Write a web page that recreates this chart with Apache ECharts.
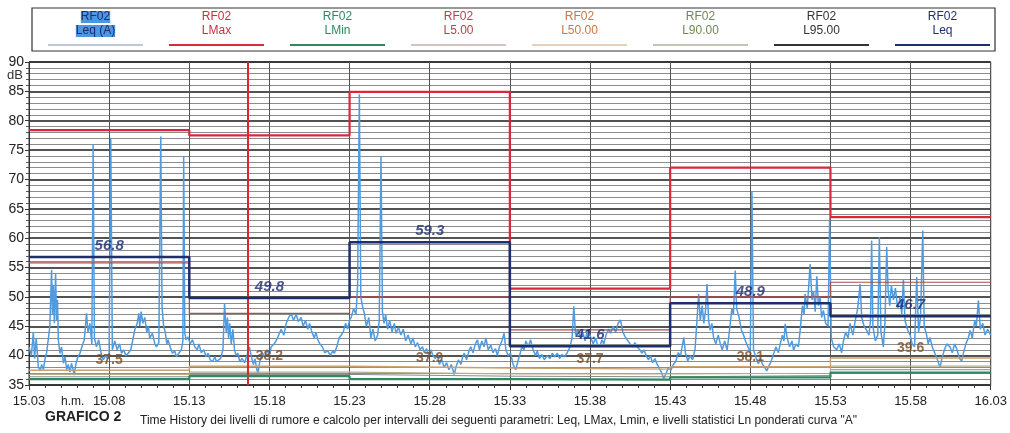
<!DOCTYPE html>
<html>
<head>
<meta charset="utf-8">
<script src="https://cdn.jsdelivr.net/npm/echarts@6/dist/echarts.min.js"></script>
<style>
  html, body { margin: 0; padding: 0; background: #fff; }
  #main { width: 1010px; height: 433px; }
</style>
</head>
<body>
<div id="main"></div>
<script>
// minuti dalle 15.03, asse x
var xLabels = ['15.03', '15.08', '15.13', '15.18', '15.23', '15.28', '15.33', '15.38', '15.43', '15.48', '15.53', '15.58', '16.03'];
var intervalStarts = [0, 10, 20, 30, 40, 50];
var endMinute = 60;
var cursorMinute = 13.62;

// valori per intervallo (10 min)
var leqVals = [56.8, 49.8, 59.3, 41.6, 48.9, 46.7];
var lmaxVals = [78.4, 77.5, 84.9, 51.4, 72.0, 63.6];
var lminVals = [36.0, 36.5, 36.0, 35.9, 36.3, 37.1];
var l5Vals = [55.8, 47.2, 50.0, 44.4, 50.0, 52.5];
var l50Vals = [37.5, 38.2, 37.9, 37.7, 38.1, 39.6];
var l90Vals = [36.8, 37.2, 36.9, 36.9, 37.0, 38.2];
var l95Vals = [36.4, 36.8, 36.5, 36.4, 36.6, 37.6];

// Leq(A) short, [minuto, dB]
var leqTrace = [
  [0.0, 41.5], [0.15, 40.0], [0.27, 44.0], [0.35, 39.5], [0.45, 43.0], [0.58, 38.1], [0.7, 37.4], [0.79, 38.5],
  [0.9, 37.6], [1.0, 39.5], [1.1, 40.5], [1.2, 42.7], [1.3, 45.0], [1.36, 50.5], [1.41, 54.6], [1.46, 47.0],
  [1.52, 52.0], [1.58, 45.5], [1.66, 54.0], [1.72, 46.0], [1.78, 49.5], [1.83, 42.7], [1.93, 40.4], [2.03, 41.5],
  [2.15, 38.7], [2.25, 39.8], [2.35, 37.6], [2.45, 38.5], [2.55, 37.2], [2.65, 38.7], [2.75, 37.6], [2.82, 36.7],
  [2.92, 38.5], [3.05, 39.8], [3.18, 40.4], [3.3, 41.5], [3.45, 42.7], [3.59, 47.2], [3.68, 44.0], [3.8, 45.5],
  [3.92, 42.0], [4.0, 76.0], [4.08, 43.0], [4.21, 41.5], [4.35, 42.7], [4.5, 40.4], [4.63, 39.3], [4.78, 40.0],
  [4.9, 39.5], [5.0, 40.5], [5.1, 77.0], [5.2, 41.0], [5.35, 42.5], [5.5, 41.0], [5.65, 42.0], [5.77, 40.4],
  [5.9, 41.0], [6.05, 40.0], [6.19, 40.4], [6.35, 41.0], [6.5, 43.0], [6.6, 44.4], [6.75, 45.5], [6.85, 47.2],
  [6.91, 45.0], [7.0, 47.5], [7.1, 45.5], [7.22, 46.5], [7.35, 44.0], [7.45, 45.0], [7.53, 43.0], [7.7, 43.8],
  [7.85, 42.0], [7.95, 41.5], [8.1, 42.2], [8.22, 77.3], [8.3, 48.4], [8.4, 45.0], [8.5, 44.0], [8.6, 42.0],
  [8.68, 42.7], [8.8, 41.5], [8.95, 40.4], [9.09, 40.8], [9.2, 39.8], [9.35, 40.4], [9.5, 41.0], [9.6, 42.5],
  [9.65, 74.0], [9.72, 43.8], [9.8, 42.7], [9.92, 43.2], [10.05, 42.0], [10.2, 42.7], [10.34, 41.5], [10.5, 41.0],
  [10.6, 42.0], [10.75, 40.5], [10.9, 41.0], [11.05, 39.8], [11.17, 40.4], [11.3, 39.3], [11.45, 39.0], [11.6, 39.8],
  [11.69, 39.0], [11.8, 38.8], [11.95, 39.5], [12.1, 41.0], [12.2, 48.9], [12.3, 44.0], [12.38, 46.5], [12.45, 43.0],
  [12.52, 45.5], [12.62, 42.0], [12.72, 44.5], [12.82, 41.0], [12.92, 40.0], [13.03, 40.4], [13.15, 39.0], [13.3, 39.5],
  [13.45, 38.8], [13.6, 40.0], [13.75, 41.5], [13.86, 40.0], [14.0, 38.5], [14.1, 39.5], [14.2, 37.8], [14.28, 37.0],
  [14.4, 39.0], [14.55, 40.5], [14.7, 39.8], [14.85, 41.0], [15.0, 40.0], [15.11, 41.5], [15.3, 42.0], [15.5, 43.0],
  [15.73, 44.5], [15.9, 43.5], [16.05, 45.5], [16.2, 46.5], [16.36, 47.2], [16.5, 46.0], [16.67, 47.0], [16.8, 45.8],
  [16.98, 46.5], [17.1, 45.0], [17.25, 46.0], [17.4, 44.5], [17.5, 45.5], [17.65, 44.0], [17.8, 43.0], [17.9, 44.0],
  [18.02, 42.7], [18.15, 42.0], [18.3, 41.5], [18.45, 40.5], [18.64, 40.8], [18.8, 40.0], [18.95, 40.8], [19.05, 40.4],
  [19.2, 41.5], [19.35, 43.0], [19.47, 42.7], [19.6, 44.0], [19.75, 45.5], [19.88, 44.5], [19.99, 46.0],
  [20.1, 46.5], [20.25, 48.0], [20.4, 47.0], [20.5, 52.0], [20.61, 84.5], [20.7, 50.0], [20.8, 48.5], [20.92, 47.2],
  [21.05, 45.0], [21.2, 46.5], [21.33, 43.0], [21.45, 44.5], [21.6, 42.5], [21.75, 43.5], [21.85, 46.0], [21.96, 74.0],
  [22.05, 47.5], [22.15, 45.5], [22.25, 47.0], [22.37, 44.5], [22.5, 46.0], [22.65, 44.0], [22.79, 45.5], [22.9, 43.8],
  [23.05, 44.8], [23.2, 43.5], [23.35, 44.5], [23.5, 42.5], [23.65, 43.5], [23.83, 42.0], [23.95, 43.0], [24.1, 41.5],
  [24.24, 42.2], [24.4, 41.0], [24.55, 41.5], [24.66, 40.5], [24.8, 41.2], [24.95, 40.0], [25.08, 41.0], [25.2, 40.0],
  [25.35, 39.5], [25.49, 40.2], [25.6, 38.5], [25.75, 39.3], [25.9, 38.0], [26.05, 38.8], [26.2, 37.6], [26.35, 38.5],
  [26.53, 36.8], [26.65, 38.2], [26.8, 39.3], [26.95, 38.5], [27.05, 39.8], [27.15, 40.4], [27.3, 39.3], [27.45, 40.8],
  [27.56, 41.5], [27.7, 40.5], [27.85, 42.0], [27.98, 42.7], [28.1, 41.0], [28.25, 42.5], [28.39, 41.5], [28.5, 43.0],
  [28.65, 41.0], [28.81, 41.8], [28.95, 40.5], [29.1, 41.2], [29.22, 40.0], [29.35, 41.5], [29.5, 42.5], [29.64, 43.8],
  [29.75, 41.0], [29.9, 40.0], [30.05, 40.4], [30.2, 38.5], [30.36, 37.6], [30.5, 39.0], [30.65, 40.5], [30.75, 41.5],
  [30.88, 41.0], [31.0, 42.5], [31.15, 41.5], [31.29, 42.7], [31.45, 41.0], [31.6, 40.0], [31.71, 40.8], [31.85, 39.5],
  [32.0, 40.2], [32.15, 39.3], [32.33, 40.0], [32.5, 39.5], [32.65, 40.4], [32.8, 39.8], [32.96, 40.4], [33.1, 39.5],
  [33.25, 40.2], [33.4, 39.8], [33.58, 40.5], [33.75, 41.5], [33.88, 43.0], [33.99, 48.4], [34.1, 43.5], [34.25, 44.5],
  [34.41, 43.0], [34.55, 44.0], [34.7, 42.5], [34.85, 44.5], [35.03, 43.2], [35.2, 42.0], [35.35, 43.0], [35.45, 42.0],
  [35.6, 41.5], [35.75, 42.7], [35.86, 42.0], [36.0, 43.5], [36.15, 44.5], [36.28, 43.8], [36.45, 45.0], [36.6, 44.0],
  [36.75, 45.5], [36.9, 46.1], [37.05, 44.0], [37.2, 43.2], [37.32, 42.7], [37.5, 42.0], [37.65, 41.5], [37.8, 42.2],
  [37.94, 41.5], [38.1, 41.0], [38.25, 40.4], [38.36, 41.0], [38.5, 40.0], [38.65, 39.3], [38.77, 40.0], [38.9, 38.8],
  [39.05, 39.5], [39.19, 38.5], [39.3, 38.0], [39.45, 37.2], [39.6, 36.1], [39.75, 37.0], [39.9, 38.0], [40.05, 37.5],
  [40.2, 38.5], [40.35, 39.0], [40.5, 40.5], [40.65, 40.0], [40.85, 43.1], [40.95, 40.5], [41.1, 39.1], [41.25, 40.0],
  [41.4, 39.3], [41.55, 41.0], [41.65, 45.0], [41.78, 50.5], [41.88, 46.0], [42.0, 48.5], [42.1, 45.5], [42.2, 47.5],
  [42.3, 52.2], [42.4, 46.0], [42.5, 44.3], [42.6, 45.5], [42.71, 43.1], [42.85, 42.0], [43.0, 43.5], [43.13, 42.0],
  [43.25, 41.0], [43.4, 42.5], [43.55, 40.9], [43.65, 43.0], [43.75, 45.5], [43.85, 48.0], [43.95, 47.0], [44.06, 54.5],
  [44.15, 48.0], [44.3, 46.5], [44.45, 44.3], [44.58, 43.5], [44.7, 42.5], [44.85, 41.5], [45.0, 40.5], [45.1, 68.0],
  [45.2, 41.0], [45.35, 39.7], [45.5, 38.6], [45.62, 39.5], [45.75, 38.6], [45.9, 38.0], [46.03, 37.4], [46.15, 38.2],
  [46.3, 39.0], [46.45, 40.3], [46.6, 41.5], [46.75, 40.5], [46.87, 42.0], [47.0, 43.5], [47.1, 42.5], [47.18, 45.4],
  [47.3, 43.0], [47.45, 41.5], [47.6, 42.5], [47.7, 40.9], [47.85, 42.0], [48.0, 41.5], [48.11, 44.3], [48.25, 48.5],
  [48.35, 47.0], [48.42, 50.5], [48.55, 48.0], [48.65, 52.0], [48.73, 55.6], [48.85, 49.5], [48.95, 51.0], [49.05, 47.5],
  [49.15, 53.5], [49.25, 48.5], [49.35, 50.0], [49.45, 46.5], [49.56, 47.7], [49.7, 45.5], [49.85, 45.0], [49.95, 63.5],
  [50.05, 43.0], [50.2, 41.5], [50.39, 41.0], [50.55, 42.0], [50.7, 40.5], [50.81, 42.5], [50.95, 44.0], [51.1, 43.0],
  [51.22, 45.5], [51.4, 43.5], [51.55, 46.0], [51.7, 48.0], [51.85, 52.2], [51.95, 46.5], [52.1, 45.0], [52.26, 44.3],
  [52.4, 43.5], [52.5, 46.0], [52.57, 59.6], [52.65, 45.0], [52.8, 42.5], [52.95, 43.5], [53.05, 60.2], [53.15, 44.0],
  [53.3, 41.5], [53.4, 45.5], [53.51, 58.5], [53.6, 51.0], [53.7, 48.5], [53.8, 52.0], [53.93, 49.5], [54.05, 51.5],
  [54.2, 48.0], [54.35, 50.0], [54.45, 47.0], [54.55, 53.0], [54.65, 46.0], [54.8, 44.5], [54.97, 43.5], [55.1, 42.0],
  [55.25, 41.5], [55.38, 53.4], [55.5, 44.0], [55.62, 46.5], [55.76, 61.3], [55.85, 45.0], [56.0, 43.5], [56.1, 42.0],
  [56.21, 43.1], [56.35, 41.5], [56.5, 40.5], [56.65, 39.5], [56.84, 38.0], [56.95, 39.5], [57.1, 40.9], [57.25, 42.0],
  [57.46, 41.5], [57.6, 40.5], [57.75, 42.0], [57.9, 41.0], [58.05, 39.5], [58.19, 39.1], [58.3, 40.5], [58.45, 42.0],
  [58.6, 43.0], [58.71, 44.3], [58.85, 43.0], [59.0, 46.0], [59.1, 45.0], [59.23, 49.4], [59.35, 44.5], [59.5, 45.5],
  [59.65, 43.5], [59.8, 44.5], [60.0, 43.5]
];

var chart = echarts.init(document.getElementById('main'), null, { renderer: 'canvas' });

// gradini per intervallo
function stepData(vals) {
  var d = vals.map(function (v, i) { return [intervalStarts[i], v]; });
  d.push([endMinute, vals[vals.length - 1]]);
  return d;
}
function centerData(vals) {
  return vals.map(function (v, i) { return [intervalStarts[i] + 5, v]; });
}

var font = 'Liberation Sans Narrow, Liberation Sans, Arial';
var legendItems = [
  { name: 'Leq (A)', text: '#1c2f6b', line: '#7f8fa8', bg: '#4d97e2' },
  { name: 'LMax', text: '#c8303f', line: '#cf2f3d' },
  { name: 'LMin', text: '#2e8a5e', line: '#2e8a62' },
  { name: 'L5.00', text: '#b5414c', line: '#a88a8a' },
  { name: 'L50.00', text: '#c8764a', line: '#c9a57a' },
  { name: 'L90.00', text: '#6e8a50', line: '#8a8a6a' },
  { name: 'L95.00', text: '#333333', line: '#333333' },
  { name: 'Leq', text: '#1f2f6e', line: '#1f2f6e' }
];
var rich = {};
legendItems.forEach(function (it, i) {
  rich['t' + i] = {
    align: 'center', fontSize: 12, lineHeight: 14, color: it.text,
    fontFamily: font,
    backgroundColor: it.bg || 'transparent'
  };
  rich['l' + i] = {
    align: 'center', width: 95, height: i === 0 || i === 3 || i === 4 || i === 5 ? 1 : 2,
    lineHeight: 14, backgroundColor: it.line
  };
});

function stepSeries(name, vals, color, width, z) {
  return {
    name: name,
    type: 'line',
    step: 'end',
    data: stepData(vals),
    symbol: 'none',
    z: z,
    lineStyle: { color: color, width: width },
    itemStyle: { color: color }
  };
}

var option = {
  animation: false,
  backgroundColor: '#fff',
  grid: { left: 29, right: 17, top: 62, bottom: 48, show: true, borderColor: '#333', borderWidth: 1 },
  legend: {
    left: 42,
    top: 11,
    padding: 0,
    itemGap: 20,
    itemWidth: 0,
    itemHeight: 0,
    selectedMode: false,
    data: legendItems.map(function (it) { return it.name; }),
    formatter: function (name) {
      var i = legendItems.map(function (it) { return it.name; }).indexOf(name);
      return '{t' + i + '|RF02}\n{t' + i + '|' + name + '}\n{l' + i + '|}';
    },
    textStyle: { rich: rich }
  },
  graphic: [
    { type: 'rect', shape: { x: 32, y: 8, width: 963, height: 43 }, style: { fill: 'none', stroke: '#333', lineWidth: 1.2 } },
    { type: 'text', left: 7, top: 69, style: { text: 'dB', fontSize: 13, fill: '#333', fontFamily: font } },
    { type: 'text', left: 61, top: 396, style: { text: 'h.m.', fontSize: 12, fill: '#222', fontFamily: font } },
    { type: 'text', left: 45, top: 410, style: { text: 'GRAFICO 2', fontSize: 14, fontWeight: 'bold', fill: '#222', fontFamily: font } },
    { type: 'text', left: 140, top: 415, style: { text: 'Time History dei livelli di rumore e calcolo per intervalli dei seguenti parametri: Leq, LMax, Lmin, e livelli statistici Ln ponderati curva "A"', fontSize: 12, fill: '#222', fontFamily: font } }
  ],
  xAxis: {
    type: 'value',
    min: 0,
    max: endMinute,
    interval: 5,
    axisLine: { show: true, lineStyle: { color: '#333' } },
    axisTick: { show: true, length: 5, lineStyle: { color: '#333' } },
    minorTick: { show: true, splitNumber: 5, length: 3, lineStyle: { color: '#333' } },
    axisLabel: {
      margin: 10, fontSize: 13, color: '#222',
      fontFamily: font,
      formatter: function (v) { return xLabels[Math.round(v / 5)]; }
    },
    splitLine: { show: true, lineStyle: { color: '#555', width: 1 } }
  },
  yAxis: {
    type: 'value',
    min: 35,
    max: 90,
    interval: 5,
    axisLine: { show: true, lineStyle: { color: '#333' } },
    axisTick: { show: true, length: 4, lineStyle: { color: '#333' } },
    minorTick: { show: true, splitNumber: 5, length: 3, lineStyle: { color: '#555' } },
    axisLabel: {
      margin: 5, fontSize: 14, color: '#222',
      fontFamily: font
    },
    splitLine: { show: true, lineStyle: { color: '#1a1a1a', width: 1.6 } },
    minorSplitLine: { show: true, lineStyle: { color: '#8c8c8c', width: 1 } }
  },
  series: [
    {
      name: 'Leq (A)',
      type: 'line',
      data: leqTrace,
      symbol: 'none',
      z: 3,
      lineStyle: { color: '#4f9be0', width: 1.5 },
      itemStyle: { color: '#4f9be0' },
      markLine: {
        silent: true,
        symbol: 'none',
        label: { show: false },
        lineStyle: { color: '#d9262f', width: 2, type: 'solid' },
        data: [{ xAxis: cursorMinute }]
      }
    },
    stepSeries('L95.00', l95Vals, '#8a8a8a', 1, 4),
    stepSeries('L90.00', l90Vals, '#b5ad88', 1.2, 4),
    stepSeries('L50.00', l50Vals, '#c9a070', 1.4, 4),
    stepSeries('L5.00', l5Vals, '#a85050', 1.2, 4),
    stepSeries('LMin', lminVals, '#2e8a62', 2.2, 5),
    stepSeries('LMax', lmaxVals, '#d7283c', 2.2, 5),
    stepSeries('Leq', leqVals, '#1f2f6e', 2.5, 6),
    {
      type: 'scatter',
      data: centerData(leqVals),
      symbolSize: 0,
      z: 7,
      silent: true,
      label: {
        show: true, position: 'top', distance: 4,
        fontSize: 15, fontWeight: 'bold', fontStyle: 'italic', color: '#1a2a72',
        fontFamily: 'Liberation Sans, Arial',
        formatter: function (p) { return p.value[1].toFixed(1); }
      }
    },
    {
      type: 'scatter',
      data: centerData(l50Vals),
      symbolSize: 0,
      z: 7,
      silent: true,
      label: {
        show: true, position: 'top', distance: 3,
        fontSize: 14, fontWeight: 'bold', color: '#7a4a22',
        fontFamily: 'Liberation Sans, Arial',
        formatter: function (p) { return p.value[1].toFixed(1); }
      }
    }
  ]
};

chart.setOption(option);
</script>
</body>
</html>
